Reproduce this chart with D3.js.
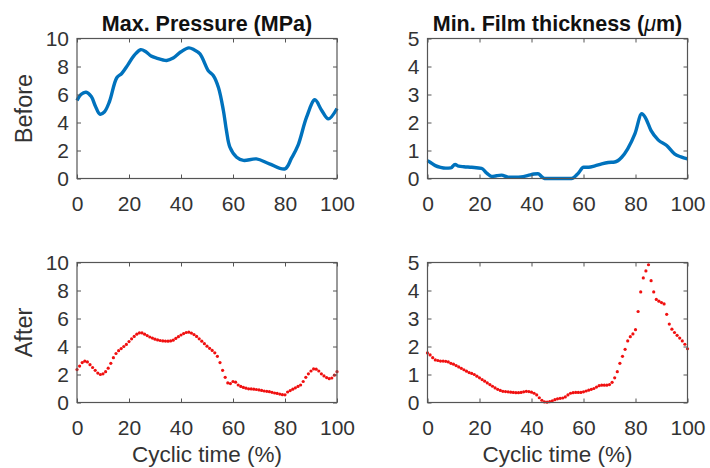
<!DOCTYPE html>
<html>
<head>
<meta charset="utf-8">
<script src="https://cdn.jsdelivr.net/npm/d3@7"></script>
<style>
  body { margin: 0; background: #fff; }
  svg { display: block; font-family: "Liberation Sans", Arial, sans-serif; }
</style>
</head>
<body>
<svg width="710" height="468"></svg>
<script>
// before: smooth curves, read at key points (cyclic time %, value)
const beforePressureT = [0, 1.5, 3.5, 5.5, 7, 8.8, 10.5, 12.5, 15.3, 17.2, 19.5, 22, 24.5, 26.5, 28.5, 30.6, 34.5, 37, 40, 43, 45, 47.3, 50.5, 52.4, 54.4, 56.3, 57.5, 58.8, 61.4, 64, 69, 74, 80, 82.5, 85, 88.3, 91.5, 94, 96.7, 100];
const beforePressure = [5.57, 6.0, 6.16, 5.85, 5.2, 4.6, 4.75, 5.5, 7.2, 7.5, 8.1, 8.8, 9.2, 9.05, 8.75, 8.6, 8.43, 8.6, 9.05, 9.33, 9.2, 8.9, 7.7, 7.36, 6.5, 4.86, 3.4, 2.24, 1.52, 1.29, 1.4, 1.05, 0.69, 1.45, 2.36, 4.38, 5.62, 4.9, 4.26, 5.0];

const beforeFilmT = [0, 1, 3, 5, 7, 9, 10.6, 12, 14, 17, 20.8, 22.8, 24.7, 26.5, 28.5, 31, 34, 36, 38.7, 41, 42.5, 44, 45, 50, 55.4, 58, 60, 62, 64.4, 67, 69.5, 72, 74.7, 77, 79.8, 82.4, 83.7, 86, 88.7, 92, 95, 97.5, 100];
const beforeFilm = [0.64, 0.58, 0.46, 0.4, 0.37, 0.38, 0.5, 0.44, 0.42, 0.4, 0.36, 0.19, 0.07, 0.1, 0.12, 0.05, 0.05, 0.06, 0.11, 0.16, 0.17, 0.06, 0.0, 0.0, 0.0, 0.19, 0.4, 0.4, 0.45, 0.52, 0.57, 0.59, 0.76, 1.06, 1.6, 2.31, 2.19, 1.71, 1.38, 1.18, 0.88, 0.77, 0.7];

// after: one sample per 1 % of the cycle
const afterT = d3.range(0, 101);
const afterPressure = [
  2.35, 2.6, 2.85, 2.95, 2.9, 2.7, 2.5, 2.3, 2.1, 2.0,
  2.05, 2.2, 2.45, 2.8, 3.2, 3.5, 3.7, 3.85, 4.0, 4.15,
  4.35, 4.55, 4.72, 4.88, 4.98, 4.97, 4.88, 4.78, 4.68, 4.6,
  4.52, 4.47, 4.43, 4.4, 4.39, 4.38, 4.4, 4.45, 4.58, 4.7,
  4.82, 4.92, 5.0, 5.02, 4.96, 4.85, 4.72, 4.55, 4.38, 4.2,
  4.02, 3.87, 3.72, 3.55, 3.3, 2.85, 2.3, 1.8, 1.4, 1.35,
  1.5, 1.45, 1.25, 1.15, 1.08, 1.02, 0.98, 0.97, 0.95, 0.93,
  0.9, 0.86, 0.82, 0.8, 0.77, 0.73, 0.68, 0.65, 0.6, 0.56,
  0.55, 0.75, 0.85, 0.95, 1.05, 1.15, 1.25, 1.5, 1.8, 2.05,
  2.25, 2.4, 2.38, 2.25, 2.05, 1.9, 1.78, 1.7, 1.75, 1.95,
  2.2
];
const afterFilm = [
  1.77, 1.7, 1.6, 1.52, 1.5, 1.48, 1.48, 1.47, 1.45, 1.4,
  1.37, 1.32, 1.27, 1.22, 1.17, 1.12, 1.07, 1.04, 1.0, 0.94,
  0.88, 0.82, 0.76, 0.7, 0.64, 0.58, 0.52, 0.47, 0.43, 0.4,
  0.39, 0.38, 0.37, 0.36, 0.35, 0.35, 0.36, 0.38, 0.4, 0.39,
  0.37, 0.33, 0.27, 0.17, 0.08, 0.02, 0.01, 0.03, 0.06, 0.1,
  0.13, 0.15, 0.16, 0.2, 0.27, 0.33, 0.35, 0.36, 0.36, 0.36,
  0.38, 0.41, 0.44, 0.47, 0.5, 0.55, 0.6, 0.62, 0.62, 0.62,
  0.64, 0.72, 0.88, 1.1, 1.4, 1.65, 1.9, 2.2, 2.35, 2.45,
  2.6, 3.25, 3.95, 4.45, 4.7, 4.92, 4.35, 3.95, 3.68, 3.62,
  3.57, 3.52, 3.15, 2.8, 2.62, 2.5, 2.4, 2.3, 2.2, 2.08,
  1.92
];

const xTicks = [0, 20, 40, 60, 80, 100];
const pressureTicks = [0, 2, 4, 6, 8, 10];
const filmTicks = [0, 1, 2, 3, 4, 5];
const rowLabels = ["Before", "After"];
const xLabel = "Cyclic time (%)";

const svg = d3.select("svg");
const w = 260, h = 140;
const colX = [77, 427.5];
const rowY = [38.5, 262.5];

const x = d3.scaleLinear().domain([0, 100]).range([0, w]);
const yP = d3.scaleLinear().domain([0, 10]).range([h, 0]);
const yF = d3.scaleLinear().domain([0, 5]).range([h, 0]);

const panels = [
  { col: 0, row: 0, y: yP, ticks: pressureTicks, t: beforePressureT, v: beforePressure, kind: "line", curve: d3.curveCatmullRom },
  { col: 1, row: 0, y: yF, ticks: filmTicks, t: beforeFilmT, v: beforeFilm, kind: "line", curve: d3.curveMonotoneX },
  { col: 0, row: 1, y: yP, ticks: pressureTicks, t: afterT, v: afterPressure, kind: "dots" },
  { col: 1, row: 1, y: yF, ticks: filmTicks, t: afterT, v: afterFilm, kind: "dots" },
];

panels.forEach((p) => {
  const g = svg.append("g").attr("transform", `translate(${colX[p.col]},${rowY[p.row]})`);
  const pts = p.t.map((t, i) => [t, p.v[i]]);

  if (p.kind === "line") {
    g.append("path")
      .datum(pts)
      .attr("fill", "none")
      .attr("stroke", "#0072BD")
      .attr("stroke-width", 3.4)
      .attr("stroke-linejoin", "round")
      .attr("d", d3.line().x((d) => x(d[0])).y((d) => p.y(d[1])).curve(p.curve));
  } else {
    g.selectAll("circle")
      .data(pts)
      .join("circle")
      .attr("cx", (d) => x(d[0]))
      .attr("cy", (d) => p.y(d[1]))
      .attr("r", 1.6)
      .attr("fill", "#f01010");
  }

  const axes = [
    d3.axisBottom(x).tickValues(xTicks).tickSize(-4).tickPadding(18),
    d3.axisTop(x).tickValues(xTicks).tickSize(-4).tickFormat(""),
    d3.axisLeft(p.y).tickValues(p.ticks).tickSize(-4).tickPadding(8).tickFormat(d3.format("d")),
    d3.axisRight(p.y).tickValues(p.ticks).tickSize(-4).tickFormat(""),
  ];
  const shift = [`translate(0,${h})`, null, null, `translate(${w},0)`];
  axes.forEach((a, i) => {
    g.append("g")
      .attr("transform", shift[i])
      .call(a)
      .call((s) => s.select(".domain").remove())
      .call((s) => s.selectAll("line").attr("stroke", "#555"))
      .call((s) => s.selectAll("text").attr("fill", "#333").style("font-size", "21px"));
  });

  g.append("rect")
    .attr("width", w)
    .attr("height", h)
    .attr("fill", "none")
    .attr("stroke", "#555")
    .attr("stroke-width", 1.2);
});

// titles
const title = svg.append("g").attr("font-weight", "bold").attr("font-size", 21.5).attr("text-anchor", "middle").attr("fill", "#111");
title.append("text").attr("x", colX[0] + w / 2).attr("y", 31).text("Max. Pressure (MPa)");
const t2 = title.append("text").attr("x", colX[1] + w / 2).attr("y", 31);
t2.append("tspan").text("Min. Film thickness (");
t2.append("tspan").attr("font-style", "italic").attr("font-weight", "normal").text("μ");
t2.append("tspan").text("m)");

// row labels
rowLabels.forEach((lab, i) => {
  svg.append("text")
    .attr("transform", `translate(32,${rowY[i] + h / 2}) rotate(-90)`)
    .attr("text-anchor", "middle")
    .attr("font-size", 23.5)
    .attr("fill", "#333")
    .text(lab);
});

// x labels
colX.forEach((cx) => {
  svg.append("text")
    .attr("x", cx + w / 2)
    .attr("y", 462)
    .attr("text-anchor", "middle")
    .attr("font-size", 22.5)
    .attr("fill", "#333")
    .text(xLabel);
});
</script>
</body>
</html>
